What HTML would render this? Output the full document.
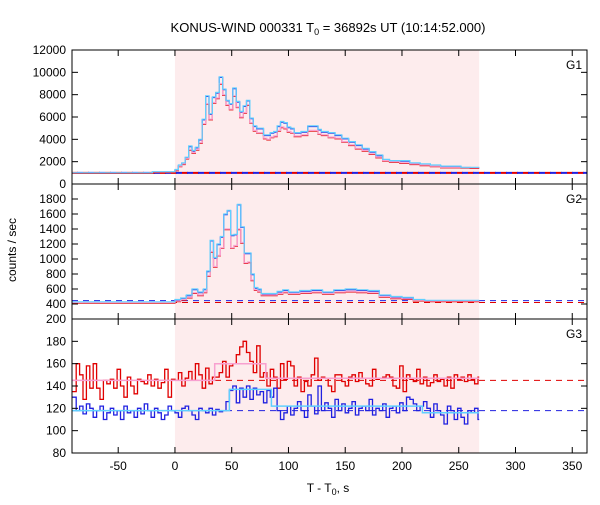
<!DOCTYPE html>
<html><head><meta charset="utf-8">
<style>
body{margin:0;background:#fff;}
svg text{font-family:"Liberation Sans","DejaVu Sans",sans-serif;}
</style></head>
<body>
<svg id="chart" width="600" height="500" viewBox="0 0 600 500" xmlns="http://www.w3.org/2000/svg">
<text x="328" y="32" font-size="13" text-anchor="middle">KONUS-WIND 000331 T<tspan font-size="9" dy="3">0</tspan><tspan dy="-3"> = 36892s UT (10:14:52.000)</tspan></text>
<text x="0" y="0" font-size="12" text-anchor="middle" transform="translate(16,250) rotate(-90)">counts / sec</text>
<text x="328" y="492" font-size="12" text-anchor="middle">T - T<tspan font-size="9" dy="3">0</tspan><tspan dy="-3">, s</tspan></text>
<g id="layer"></g>
</svg>
<script>
// ---- data ----
const xTicks=[-50,0,50,100,150,200,250,300,350];
const shadeRange=[0,268];
const g1Edges=[-90.7,-20,0,3,6,9,12,15,18,21,24,27,30,33,36,39,42,45,48,51,54,57,60,63,66,69,72,75,78,81,84,87,90,93,96,99,102,105,108,111,114,117,120,123,126,129,135,141,147,153,159,165,171,177,183,189,198,207,216,225,234,243,252,260,268];
const g1Cyan=[1000,1100,1300,1700,1900,2400,3400,3000,3300,4000,5800,7900,6300,7800,8200,9600,8500,7500,7200,8600,7400,6500,7000,7500,5900,5200,5000,5000,4400,4400,4600,4700,5200,5600,5500,5100,5000,4600,4600,4700,4700,5200,5200,5200,4900,4700,4600,4400,4100,3800,3500,3200,2900,2600,2200,2100,2100,1900,1800,1700,1600,1600,1500,1500];
const g1Pink=[1000,1080,1250,1600,1800,2300,3100,2800,3100,3700,5400,7200,5800,7300,7700,9000,8000,7100,6700,7900,6900,6000,6400,7100,5500,4800,4600,4600,4100,4000,4200,4300,4800,5100,5000,4700,4600,4300,4300,4400,4400,4800,4800,4800,4500,4400,4200,4100,3800,3500,3200,3000,2700,2400,2100,2000,1900,1800,1700,1600,1500,1500,1500,1450];
const g2Edges=[-90.7,0,5,10,15,20,25,28,31,34,37,40,43,46,49,52,55,58,61,64,67,70,73,76,80,90,95,100,110,120,130,140,150,160,170,180,190,200,210,220,240,268];
const g2Cyan=[430,460,480,520,600,560,600,840,1250,1020,1200,1300,1600,1650,1320,1330,1730,1430,1080,1080,800,620,600,540,540,570,590,560,580,590,560,590,600,590,580,520,500,490,460,450,450];
const g2Pink=[420,440,460,490,550,520,560,780,1100,900,1050,1150,1400,1400,1150,1180,1400,1220,950,960,720,590,570,520,520,540,560,540,550,560,540,560,570,560,550,500,480,470,450,440,440];
const bgG1=[1000,1000];
const bgG2=[420,445];
const bgG3=[145,118];
const g3Red=[135,160,150,128,158,138,160,138,128,145,142,146,138,155,140,130,148,140,133,146,144,142,150,140,146,138,143,155,130,146,145,152,140,147,153,145,160,150,138,156,142,148,148,152,162,148,158,160,168,175,180,170,162,152,176,148,152,140,155,148,138,160,146,162,158,140,148,135,144,140,150,165,145,148,147,140,135,150,150,144,140,148,150,144,152,147,142,140,155,146,147,148,150,148,140,138,158,135,150,146,144,155,142,148,140,143,150,144,146,140,148,138,150,146,148,144,150,146,142,148];
const g3Blue=[130,118,122,115,124,120,112,118,122,110,116,120,114,118,110,122,116,118,112,120,115,124,118,112,120,116,110,114,122,118,116,112,120,122,118,114,110,120,118,116,120,114,119,117,118,126,136,140,125,138,130,140,128,138,132,135,125,136,130,138,118,110,116,122,114,120,126,118,112,132,122,115,140,118,125,120,112,128,118,124,116,120,126,114,120,122,118,128,114,120,118,124,112,120,122,116,125,118,130,128,124,118,122,126,120,112,124,118,114,106,122,118,110,120,112,106,118,116,120,110,118,126];
const g3PinkEdges=[-90.7,35,80,268];
const g3PinkVals=[145,160,147];
const g3CyanEdges=[-90.7,48,85,218,268];
const g3CyanVals=[118,137,122,116];
// ---- geometry ----
const X0=72,X1=587,XMIN=-90.7,XMAX=363;
const xs=t=>X0+(t-XMIN)*(X1-X0)/(XMAX-XMIN);
const panels=[
 {name:'g1',top:50,bot:184,min:0,max:12000,ticks:[0,2000,4000,6000,8000,10000,12000],label:'G1'},
 {name:'g2',top:184,bot:319,min:200,max:2000,ticks:[200,400,600,800,1000,1200,1400,1600,1800],label:'G2'},
 {name:'g3',top:319,bot:453,min:80,max:200,ticks:[80,100,120,140,160,180],label:'G3'}];
const NS='http://www.w3.org/2000/svg';
const layer=document.getElementById('layer');
function mk(tag,attrs,parent){const e=document.createElementNS(NS,tag);for(const k in attrs)e.setAttribute(k,attrs[k]);(parent||layer).appendChild(e);return e;}
function ysOf(p){return v=>p.bot-(v-p.min)*(p.bot-p.top)/(p.max-p.min);}
function stepPath(edges,vals,ys,dy){let d='';for(let i=0;i<vals.length;i++){const y=ys(vals[i])+dy;const xa=xs(edges[i]),xb=xs(edges[i+1]);d+=(i===0?'M':'L')+xa.toFixed(1)+','+y.toFixed(1)+'L'+xb.toFixed(1)+','+y.toFixed(1);}return d;}
function uniformEdges(n){const e=[];for(let i=0;i<=n;i++)e.push(Math.min(268,-90+i*3));e[0]=XMIN;return e;}

panels.forEach((p,pi)=>{
 const ys=ysOf(p);
 const shade=mk('rect',{x:xs(shadeRange[0]),y:p.top,width:xs(shadeRange[1])-xs(shadeRange[0]),height:p.bot-p.top,fill:'#fdeced'});
 
 
 let bg=pi===0?bgG1:pi===1?bgG2:bgG3;
 const rl=mk('line',{x1:X0,x2:X1,y1:ys(bg[0]),y2:ys(bg[0]),stroke:'#e00000','stroke-width':pi===0?2:1,'stroke-dasharray':'6,5'});
 
 
 const bl=mk('line',{x1:X0,x2:X1,y1:ys(bg[1]),y2:ys(bg[1]),stroke:'#2020e0','stroke-width':pi===0?2:1,'stroke-dasharray':'6,5','stroke-dashoffset':pi===0?6:0});
 
 
 const series=[];
 if(pi<2){
  const E=pi===0?g1Edges:g2Edges,C=pi===0?g1Cyan:g2Cyan,P=pi===0?g1Pink:g2Pink;
  series.push(['blue-series',E,C,'#2020e0',0.6,1.2]);
  series.push(['red-series',E,P,'#e00000',0.6,1.2]);
  series.push(['pink-series',E,P,'#f8a0d0',0,1.2]);
  series.push(['cyan-series',E,C,'#60d0ff',0,1.2]);
 } else {
  series.push(['red-series',uniformEdges(g3Red.length),g3Red,'#e00000',0,1.3]);
  series.push(['blue-series',uniformEdges(g3Blue.length),g3Blue,'#2020e0',0,1.3]);
  series.push(['pink-series',g3PinkEdges,g3PinkVals,'#f8a0d0',0,1.5]);
  series.push(['cyan-series',g3CyanEdges,g3CyanVals,'#60d0ff',0,1.5]);
 }
 series.forEach(s=>{
  let E=s[1],V=s[2];
  if(pi===2&&(s[0]==='red-series'||s[0]==='blue-series')){const n=Math.ceil((268+90)/3);V=V.slice(0,n);E=E.slice(0,n+1);}
  const path=mk('path',{d:stepPath(E,V,ys,s[4]),fill:'none',stroke:s[3],'stroke-width':s[5]});
  
  
 });
 const frame=mk('rect',{x:X0,y:p.top,width:X1-X0,height:p.bot-p.top,fill:'none',stroke:'#000','stroke-width':1});
 
 
 p.ticks.forEach(v=>{
  const y=ys(v);
  mk('line',{x1:X0,x2:X0+6,y1:y,y2:y,stroke:'#000'});
  mk('line',{x1:X1-6,x2:X1,y1:y,y2:y,stroke:'#000'});
  const t=mk('text',{x:X0-6,y:y+4,'font-size':12,'text-anchor':'end'});
  t.textContent=v;
  
  
 });
 xTicks.forEach(v=>{
  const x=xs(v);
  mk('line',{x1:x,x2:x,y1:p.top,y2:p.top+6,stroke:'#000'});
  mk('line',{x1:x,x2:x,y1:p.bot-6,y2:p.bot,stroke:'#000'});
 });
 const lab=mk('text',{x:X1-5,y:p.top+19,'font-size':12,'text-anchor':'end'});
 lab.textContent=p.label;
 
 
});
xTicks.forEach(v=>{
 const t=mk('text',{x:xs(v),y:470,'font-size':12,'text-anchor':'middle'});
 t.textContent=v;
 
 
});
</script>
</body></html>
